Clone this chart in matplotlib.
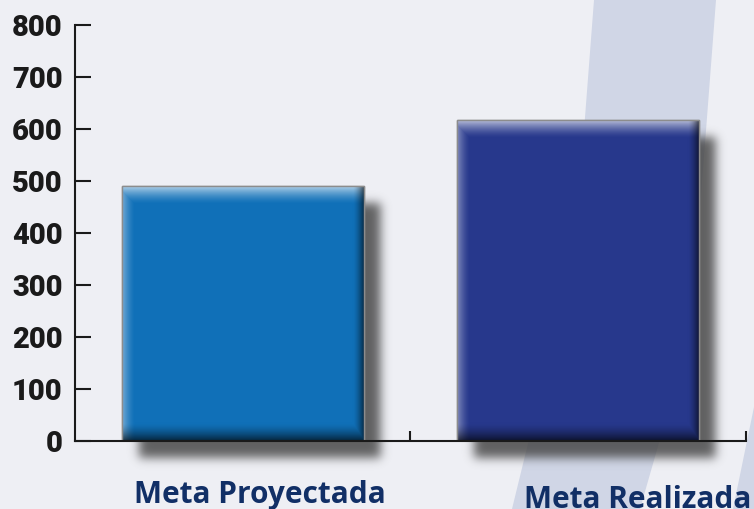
import numpy as np
import matplotlib
matplotlib.use("Agg")
import matplotlib.pyplot as plt
from matplotlib.patches import Polygon
from matplotlib.transforms import IdentityTransform, ScaledTranslation
from math import erf

categories = ["Meta Proyectada", "Meta Realizada"]
values = [490, 617]
bar_colors = ["#1070b8", "#27388c"]
yticks = [0, 100, 200, 300, 400, 500, 600, 700, 800]

W, H, DPI = 754, 509, 100
BG = "#eeeff4"
STRIPE = "#d0d6e6"

fig = plt.figure(figsize=(W / DPI, H / DPI), dpi=DPI, facecolor=BG)

# decorative stripes (image pixel coords, y from top)
def img_poly(pts):
    return Polygon([(x, H - y) for x, y in pts], closed=True,
                   transform=IdentityTransform(), facecolor=STRIPE,
                   edgecolor="none", zorder=-5)

for pts in [
    [(594, 0), (716, 0), (693, 300), (571, 300)],
    [(563, 300), (700, 300), (640, 509), (512, 509)],
    [(776, 300), (900, 300), (900, 509), (733, 509)],
]:
    fig.patches.append(img_poly(pts))

l, r, b, t = 75, 746, 441, 25
ax = fig.add_axes([l / W, (H - b) / H, (r - l) / W, (b - t) / H])
ax.set_zorder(1)
ax.set_facecolor("none")
ax.set_xlim(-0.5, 1.5)
ax.set_ylim(0, 800)

pxx = 2.0 / (r - l)
pxy = 800.0 / (b - t)

bar_w = 0.72
bars = ax.bar(range(len(values)), values, width=bar_w, color=bar_colors,
              edgecolor="#8c8c8c", linewidth=1.0, zorder=3)


def hex2rgb(h):
    h = h.lstrip("#")
    return np.array([int(h[i:i + 2], 16) / 255 for i in (0, 2, 4)])


def ramp(d, width):
    return np.clip(1 - d / width, 0, 1) ** 1.5


verf = np.vectorize(erf)


def soft(u, a, bnd, s):
    return 0.5 * (verf((u - a) / s) - verf((u - bnd) / s))


for i, (bar, v, c) in enumerate(zip(bars, values, bar_colors)):
    x0 = bar.get_x()
    x1 = x0 + bar.get_width()
    # shadow
    off_x, off_y, blur = 17, 17, 7
    sx0, sx1 = x0 + off_x * pxx, x1 + off_x * pxx
    sy0, sy1 = 0 - off_y * pxy, v - off_y * pxy
    ex0, ex1 = sx0 - 3 * blur * pxx, sx1 + 3 * blur * pxx
    ey0, ey1 = sy0 - 3 * blur * pxy, sy1 + 3 * blur * pxy
    nx = int(round((ex1 - ex0) / pxx))
    ny = int(round((ey1 - ey0) / pxy))
    xs = ex0 + (np.arange(nx) + 0.5) * pxx
    ys = ey1 - (np.arange(ny) + 0.5) * pxy
    ax_ = soft(xs / pxx, sx0 / pxx, sx1 / pxx, blur)
    ay_ = soft(ys / pxy, sy0 / pxy, sy1 / pxy, blur)
    alpha = np.outer(ay_, ax_) * 0.85
    img = np.zeros((ny, nx, 4))
    img[..., :3] = 0.28
    img[..., 3] = alpha
    ax.imshow(img, extent=(ex0, ex1, ey0, ey1), aspect="auto",
              zorder=2, clip_on=False, interpolation="bilinear")

    # bevel image
    bw = int(round((x1 - x0) / pxx))
    bh = int(round(v / pxy))
    base = hex2rgb(c)
    col = np.tile(base, (bh, bw, 1)).astype(float)
    yy = np.arange(bh)[:, None] + 0.5
    xx = np.arange(bw)[None, :] + 0.5
    dtop = yy + 0 * xx
    dbot = (bh - yy) + 0 * xx
    dleft = xx + 0 * yy
    dright = (bw - xx) + 0 * yy
    light = np.maximum(0.68 * ramp(dtop, 18), 0.42 * ramp(dleft, 13))
    dark = np.maximum(0.68 * ramp(dbot, 18), 0.6 * ramp(dright, 11))
    col = col + (1 - col) * light[..., None]
    col = col * (1 - dark[..., None])
    ax.imshow(np.clip(col, 0, 1), extent=(x0, x1, 0, v), aspect="auto",
              zorder=4, interpolation="bilinear")
    rect = plt.Rectangle((x0, 0), x1 - x0, v, facecolor="none",
                         edgecolor="#8c8c8c", linewidth=1.0, zorder=5)
    ax.add_patch(rect)

for s in ["top", "right"]:
    ax.spines[s].set_visible(False)
for s in ["left", "bottom"]:
    ax.spines[s].set_color("#1a1a1a")
    ax.spines[s].set_linewidth(1.5)
    ax.spines[s].set_zorder(6)

ax.set_yticks(yticks)
ax.set_yticklabels([str(y) for y in yticks], fontfamily="Roboto",
                   fontweight="black", fontsize=21, color="#1a1a1a")
ax.tick_params(axis="y", direction="in", length=11.5, width=1.5,
               color="#1a1a1a", pad=9)

ax.set_xticks([0, 1])
ax.set_xticklabels(categories, fontfamily="Open Sans", fontweight="bold",
                   fontsize=21.5, color="#112f66")
ax.tick_params(axis="x", which="major", length=0, pad=28)
ax.set_xticks([0.5, 1.5], minor=True)
ax.tick_params(axis="x", which="minor", direction="in", length=7, width=1.5,
               color="#1a1a1a")

offsets = [(17, 0), (59, -5)]
for lab, (dxp, dyp) in zip(ax.get_xticklabels(), offsets):
    lab.set_transform(lab.get_transform() +
                      ScaledTranslation(dxp / DPI, dyp / DPI, fig.dpi_scale_trans))

fig.savefig("out.png", dpi=DPI, facecolor=BG)
